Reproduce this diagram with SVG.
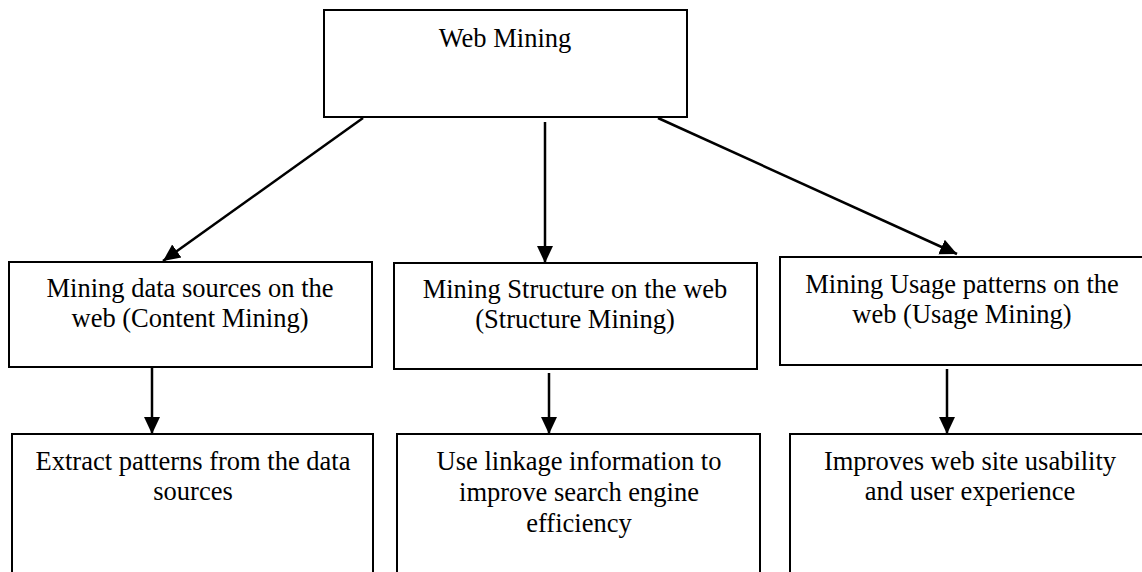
<svg xmlns="http://www.w3.org/2000/svg" width="1142" height="572" viewBox="0 0 1142 572">
  <style>
    .box { fill: #ffffff; stroke: #000000; stroke-width: 2; }
    .lbl { font-family: 'Liberation Serif', 'Times New Roman', serif; font-size: 26.5px; fill: #000000; text-anchor: middle; }
    .edge { stroke: #000000; stroke-width: 2.5; fill: none; marker-end: url(#arrow); }
  </style>
  <defs>
    <marker id="arrow" markerUnits="userSpaceOnUse" markerWidth="18" markerHeight="18" viewBox="0 0 18 16" refX="17" refY="8" orient="auto">
      <path d="M0,0 L17,8 L0,16 Z" fill="#000000"/>
    </marker>
  </defs>
  <rect width="1142" height="572" fill="#ffffff"/>

  <!-- root -->
  <g id="web-mining">
    <rect class="box" x="324" y="10" width="363" height="107"/>
    <text class="lbl" x="505" y="47">Web Mining</text>
  </g>

  <!-- second level -->
  <g id="content-mining">
    <rect class="box" x="9" y="262" width="363" height="105"/>
    <text class="lbl" x="190" y="297">Mining data sources on the</text>
    <text class="lbl" x="190" y="327">web (Content Mining)</text>
  </g>
  <g id="structure-mining">
    <rect class="box" x="394" y="263" width="363" height="106"/>
    <text class="lbl" x="575" y="298">Mining Structure on the web</text>
    <text class="lbl" x="575" y="328">(Structure Mining)</text>
  </g>
  <g id="usage-mining">
    <rect class="box" x="780" y="257" width="380" height="108"/>
    <text class="lbl" x="962" y="293">Mining Usage patterns on the</text>
    <text class="lbl" x="962" y="323">web (Usage Mining)</text>
  </g>

  <!-- third level -->
  <g id="content-result">
    <rect class="box" x="12" y="434" width="361" height="160"/>
    <text class="lbl" x="193" y="470">Extract patterns from the data</text>
    <text class="lbl" x="193" y="500">sources</text>
  </g>
  <g id="structure-result">
    <rect class="box" x="397" y="434" width="363" height="160"/>
    <text class="lbl" x="579" y="470">Use linkage information to</text>
    <text class="lbl" x="579" y="501">improve search engine</text>
    <text class="lbl" x="579" y="532">efficiency</text>
  </g>
  <g id="usage-result">
    <rect class="box" x="790" y="434" width="380" height="160"/>
    <text class="lbl" x="970" y="470">Improves web site usability</text>
    <text class="lbl" x="970" y="500">and user experience</text>
  </g>

  <!-- connectors -->
  <g id="connectors">
    <line class="edge" x1="363" y1="118" x2="163" y2="261"/>
    <line class="edge" x1="545" y1="122" x2="545" y2="263"/>
    <line class="edge" x1="658" y1="118" x2="957" y2="254"/>
    <line class="edge" x1="152" y1="368" x2="152" y2="434"/>
    <line class="edge" x1="549" y1="373" x2="549" y2="434"/>
    <line class="edge" x1="947" y1="369" x2="947" y2="434"/>
  </g>
</svg>
